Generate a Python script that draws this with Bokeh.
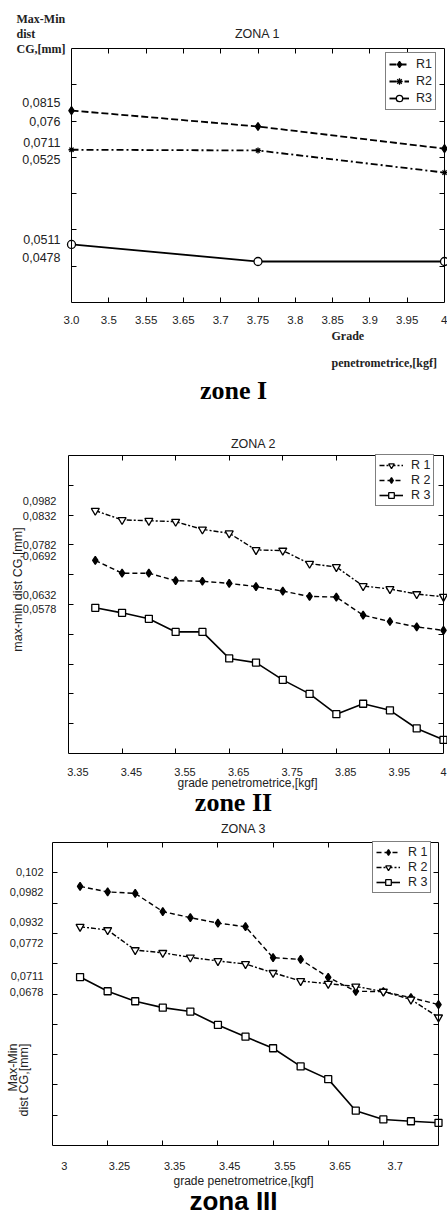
import math
from bokeh.plotting import figure
from bokeh.models import LinearAxis, FixedTicker, Label, Legend, LegendItem, Range1d
from bokeh.layouts import column
from bokeh.embed import file_html
from bokeh.resources import INLINE

# ---------------- data (y values in the chart's own unlabelled grid units) ----------------
# ZONA 1
z1_x_labels = ["3.0", "3.5", "3.55", "3.65", "3.7", "3.75", "3.8", "3.85", "3.9", "3.95", "4"]
z1_x = ["3.0", "3.75", "4"]
z1_r1 = [5.29, 4.85, 4.24]
z1_r2 = [4.21, 4.19, 3.58]
z1_r3 = [1.60, 1.13, 1.13]
z1_y_labels = ["0,0815", "0,076", "0,0711", "0,0525", "0,0511", "0,0478"]
z1_y_label_at = [5.51, 4.99, 4.42, 3.94, 1.74, 1.25]

# ZONA 2
z2_x_labels = ["3.35", "3.45", "3.55", "3.65", "3.75", "3.85", "3.95", "4"]
z2_x = [1, 2, 3, 4, 5, 6, 7, 8, 9, 10, 11, 12, 13, 14]
z2_r1 = [8.15, 7.84, 7.81, 7.78, 7.52, 7.39, 6.83, 6.81, 6.37, 6.26, 5.62, 5.52, 5.35, 5.26]
z2_r2 = [6.48, 6.05, 6.05, 5.80, 5.78, 5.71, 5.60, 5.45, 5.27, 5.25, 4.64, 4.43, 4.25, 4.13]
z2_r3 = [4.89, 4.72, 4.52, 4.08, 4.08, 3.19, 3.05, 2.47, 2.00, 1.32, 1.67, 1.45, 0.84, 0.46]
z2_y_labels = ["0,0982", "0,0832", "0,0782", "0,0692", "0,0632", "0,0578"]
z2_y_label_at = [8.46, 7.98, 7.01, 6.64, 5.32, 4.85]

# ZONA 3
z3_x_labels = ["3", "3.25", "3.35", "3.45", "3.55", "3.65", "3.7"]
z3_x = [1, 2, 3, 4, 5, 6, 7, 8, 9, 10, 11, 12, 13, 14]
z3_r1 = [8.55, 8.37, 8.32, 7.72, 7.52, 7.34, 7.22, 6.20, 6.14, 5.55, 5.09, 5.08, 4.88, 4.65]
z3_r2 = [7.22, 7.11, 6.45, 6.36, 6.21, 6.09, 5.99, 5.70, 5.43, 5.34, 5.25, 5.08, 4.82, 4.23]
z3_r3 = [5.56, 5.09, 4.76, 4.55, 4.42, 3.98, 3.59, 3.21, 2.61, 2.19, 1.15, 0.86, 0.80, 0.75]
z3_y_labels = ["0,102", "0,0982", "0,0932", "0,0772", "0,0711", "0,0678"]
z3_y_label_at = [9.01, 8.35, 7.36, 6.67, 5.58, 5.05]

# ---------------- styling / layout ----------------
SANS = "Liberation Sans"
SERIF = "Liberation Serif"
INK = "#222222"
W = 447


def make_fig(ref_top, height, L, T, FW, FH, xmax, ymax):
    """Whole canvas is the frame; the visible box is drawn by four fixed-location axes."""
    x0 = -L / FW * xmax
    x1 = (W - L) / FW * xmax
    ytop = ymax + T / FH * ymax
    ybot = ymax - (height - T) / FH * ymax
    p = figure(width=W, height=height, x_range=Range1d(x0, x1), y_range=Range1d(ybot, ytop),
               x_axis_location=None, y_axis_location=None, toolbar_location=None,
               output_backend="svg", min_border=0)
    p.outline_line_color = None
    p.background_fill_color = "white"
    p.border_fill_color = "white"
    p.grid.visible = False
    g = dict(ref_top=ref_top, L=L, T=T, FW=FW, FH=FH, xmax=xmax, ymax=ymax, H=height)
    return p, g


def to_data(g, rx, ry):
    px = rx
    py = ry - g["ref_top"]
    x = (px - g["L"]) / g["FW"] * g["xmax"]
    y = g["ymax"] - (py - g["T"]) / g["FH"] * g["ymax"]
    return x, y


def add_axis(p, g, side, label_pos, labels, tick_pos, size="12px", standoff=4):
    if side == "below":
        loc, bounds = 0, (0, g["xmax"])
    elif side == "above":
        loc, bounds = g["ymax"], (0, g["xmax"])
    elif side == "left":
        loc, bounds = 0, (0, g["ymax"])
    else:
        loc, bounds = g["xmax"], (0, g["ymax"])
    t = FixedTicker(ticks=list(label_pos), minor_ticks=list(tick_pos))
    ax = LinearAxis(ticker=t, fixed_location=loc, bounds=bounds)
    ax.major_label_overrides = {float(k): v for k, v in zip(label_pos, labels)}
    ax.axis_line_color = "black"
    ax.axis_line_width = 1
    ax.major_tick_line_color = None
    ax.minor_tick_line_color = "black"
    ax.minor_tick_in = 5
    ax.minor_tick_out = 0
    ax.major_label_standoff = standoff
    ax.major_label_text_font = SANS
    ax.major_label_text_font_size = size if labels else "0px"
    ax.major_label_text_color = INK
    p.add_layout(ax, side)


def put(p, g, rx, ry, text, font=SANS, size="12px", style="normal", align="center",
        baseline="middle", angle=0.0, color=INK):
    x, y = to_data(g, rx, ry)
    p.add_layout(Label(x=x, y=y, text=text, text_font=font, text_font_size=size,
                       text_font_style=style, text_align=align, text_baseline=baseline,
                       angle=angle, text_color=color))


def series(p, xs, ys, dash, marker, fill, size, lw):
    l = p.line(xs, ys, line_color="black", line_width=lw, line_dash=dash)
    s = p.scatter(xs, ys, marker=marker, size=size, line_color="black", fill_color=fill,
                  line_width=1.3)
    return [l, s]


def legend(p, g, items, rx0, ry_bottom, item_h, glyph_w, standoff):
    loc = (rx0, g["H"] - (ry_bottom - g["ref_top"]))
    lg = Legend(items=[LegendItem(label=n, renderers=r) for n, r in items], location=loc,
                border_line_color="black", border_line_width=1, background_fill_color="white",
                background_fill_alpha=1, label_text_font=SANS, label_text_font_size="12.5px",
                label_text_color=INK, glyph_width=glyph_w, glyph_height=item_h,
                label_height=item_h, label_width=10, label_standoff=standoff, padding=3,
                spacing=1, margin=0)
    p.add_layout(lg)


# ---------------- ZONA 1 ----------------
p1, g1 = make_fig(0, 405, 71, 48, 373, 254, 10, 7)
x1 = [z1_x_labels.index(v) for v in z1_x]
add_axis(p1, g1, "below", range(len(z1_x_labels)), z1_x_labels, range(1, 10), size="11.5px", standoff=7)
add_axis(p1, g1, "above", [], [], range(1, 10), standoff=0)
add_axis(p1, g1, "left", z1_y_label_at, z1_y_labels, range(1, 7), size="12.5px", standoff=5)
add_axis(p1, g1, "right", [], [], range(1, 7), standoff=0)
a1 = series(p1, x1, z1_r1, "7 3", "diamond", "black", 8, 1.8)
a2 = series(p1, x1, z1_r2, "7 3 2 3", "asterisk", "black", 6, 1.8)
a3 = series(p1, x1, z1_r3, "solid", "circle", "white", 8, 1.8)
legend(p1, g1, [("R1", a1), ("R2", a2), ("R3", a3)], 385, 110, 16, 20, 7)
for i, t in enumerate(["Max-Min", "dist", "CG,[mm]"]):
    put(p1, g1, 16, 18 + 15 * i, t, font=SERIF, size="12px", style="bold", align="left")
put(p1, g1, 257, 33, "ZONA 1", size="12.5px")
put(p1, g1, 331, 335, "Grade", font=SERIF, size="12px", style="bold", align="left")
put(p1, g1, 331, 362, "penetrometrice,[kgf]", font=SERIF, size="12px", style="bold", align="left")
put(p1, g1, 233, 390, "zone I", font=SERIF, size="26px", style="bold", color="black")

# ---------------- ZONA 2 ----------------
p2, g2 = make_fig(405, 413, 68, 50, 375, 298, 14, 10)
z2_lab_pos = [2 * i + 0.35 for i in range(len(z2_x_labels) - 1)] + [14]
add_axis(p2, g2, "below", z2_lab_pos, z2_x_labels, range(2, 14, 2), size="11px", standoff=8)
add_axis(p2, g2, "above", [], [], range(2, 14, 2), standoff=0)
add_axis(p2, g2, "left", z2_y_label_at, z2_y_labels, range(1, 10), size="11px", standoff=6)
add_axis(p2, g2, "right", [], [], range(1, 10), standoff=0)
b1 = series(p2, z2_x, z2_r1, "5 2 2 2", "inverted_triangle", "white", 8, 1.4)
b2 = series(p2, z2_x, z2_r2, "5 3", "diamond", "black", 8, 1.4)
b3 = series(p2, z2_x, z2_r3, "solid", "square", "white", 7, 1.6)
legend(p2, g2, [("R 1", b1), ("R 2", b2), ("R 3", b3)], 375, 506, 14, 24, 8)
put(p2, g2, 253, 443, "ZONA 2", size="12.5px")
put(p2, g2, 17.5, 589, "max-min dist CG,[mm]", size="12.5px", angle=math.pi / 2)
put(p2, g2, 247, 782, "grade penetrometrice,[kgf]", size="12px")
put(p2, g2, 233, 802, "zone II", font=SERIF, size="26px", style="bold", color="black")

# ---------------- ZONA 3 ----------------
p3, g3 = make_fig(818, 397, 52, 24, 386, 303, 14, 10)
z3_lab_pos = [2 * i + 0.43 for i in range(len(z3_x_labels))]
add_axis(p3, g3, "below", z3_lab_pos, z3_x_labels, range(2, 14, 2), size="11px", standoff=10)
add_axis(p3, g3, "above", [], [], range(2, 14, 2), standoff=0)
add_axis(p3, g3, "left", z3_y_label_at, z3_y_labels, range(1, 10), size="11px", standoff=3)
add_axis(p3, g3, "right", [], [], range(1, 10), standoff=0)
c1 = series(p3, z3_x, z3_r1, "5 3", "diamond", "black", 8, 1.4)
c2 = series(p3, z3_x, z3_r2, "5 2 2 2", "inverted_triangle", "white", 8, 1.4)
c3 = series(p3, z3_x, z3_r3, "solid", "square", "white", 7, 1.6)
legend(p3, g3, [("R 1", c1), ("R 2", c2), ("R 3", c3)], 372, 893, 14, 24, 8)
put(p3, g3, 243, 828, "ZONA 3", size="12.5px")
put(p3, g3, 12.5, 1043, "Max-Min", size="12.5px", angle=math.pi / 2, align="right")
put(p3, g3, 23, 1043, "dist CG,[mm]", size="12.5px", angle=math.pi / 2, align="right")
put(p3, g3, 243, 1180, "grade penetrometrice,[kgf]", size="12px")
put(p3, g3, 233, 1200, "zona III", size="26px", style="bold", color="black")

layout = column(p1, p2, p3, spacing=0)
open("out.html", "w").write(file_html(layout, INLINE))
